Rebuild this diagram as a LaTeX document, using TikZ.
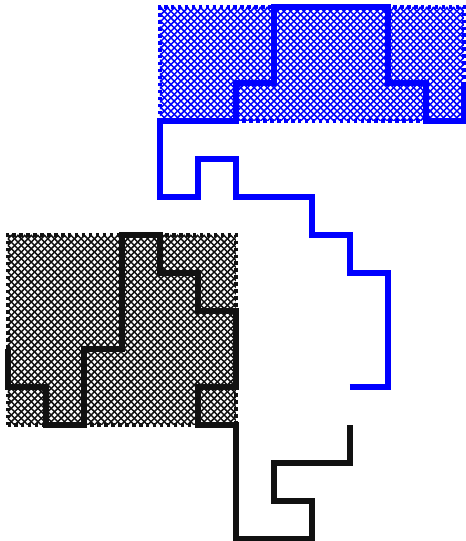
\documentclass[tikz,border=0pt]{standalone}
\definecolor{curveblack}{HTML}{111111}

\begin{document}
\begin{tikzpicture}[
  x=1cm,y=1cm,
  hatchline/.style={line width=1.1pt},
  border/.style={dash pattern=on 2.6pt off 2.6pt,line width=2.6pt},
  curve/.style={line width=5.2pt}
]
\useasboundingbox (-0.21,-0.053) rectangle (12.053,14.184);
% black region: crosshatch, dotted border, curve
\begin{scope}
  \clip (0,3) rectangle (6,8);
  \foreach \k in {-30,...,90}
    \draw[hatchline,curveblack] (\k*0.175,3) -- ++(5,5)
      (\k*0.175,3) -- ++(-5,5);
\end{scope}
\draw[border,curveblack] (0,3) rectangle (6,8);
\draw[curve,draw=curveblack] (0,5) -- (0,4) -- (1,4) -- (1,3) -- (2,3) -- (2,5)
  -- (3,5) -- (3,8) -- (4,8) -- (4,7) -- (5,7) -- (5,6) -- (6,6) -- (6,4)
  -- (5,4) -- (5,3) -- (6,3) -- (6,0) -- (8,0) -- (8,1) -- (7,1) -- (7,2)
  -- (9,2) -- (9,3);
% blue region: crosshatch, dotted border, curve
\begin{scope}
  \clip (4,11) rectangle (12,14);
  \foreach \k in {-30,...,90}
    \draw[hatchline,blue] (\k*0.175,11) -- ++(3,3)
      (\k*0.175,11) -- ++(-3,3);
\end{scope}
\draw[border,blue] (4,11) rectangle (12,14);
\draw[curve,draw=blue] (9,4) -- (10,4) -- (10,7) -- (9,7) -- (9,8) -- (8,8)
  -- (8,9) -- (6,9) -- (6,10) -- (5,10) -- (5,9) -- (4,9) -- (4,11) -- (6,11)
  -- (6,12) -- (7,12) -- (7,14) -- (10,14) -- (10,12) -- (11,12) -- (11,11)
  -- (12,11) -- (12,12);
\end{tikzpicture}
\end{document}
